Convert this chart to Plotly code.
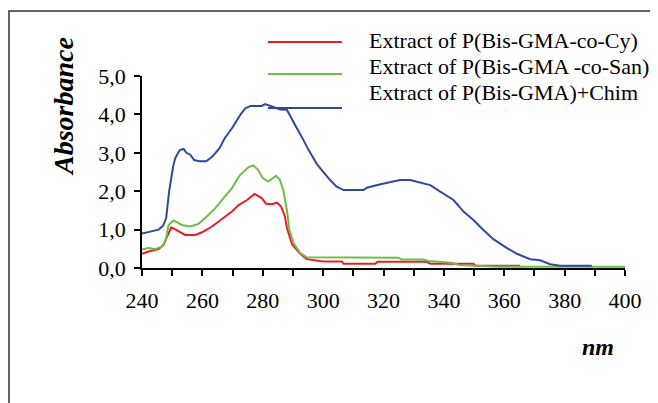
import plotly.graph_objects as go

# spectra (wavelength in nm, absorbance)
red_nm = [240, 242.2, 245.5, 247.2, 248.3, 249.7, 251.6, 254.3, 257.7, 259.9, 263.2, 266.5,
          269.8, 272, 274.8, 277.3, 279.7, 281.1, 283, 284.7, 286.1, 287.3, 288, 289.7,
          292.4, 294.6, 296.8, 300.1, 306.2, 306.8, 317.3, 318, 334.4, 335.5, 349.8, 350.5, 365.3]
red_abs = [0.37, 0.43, 0.49, 0.61, 0.82, 1.06, 0.98, 0.86, 0.86, 0.93, 1.08, 1.27,
           1.47, 1.64, 1.77, 1.93, 1.82, 1.67, 1.66, 1.70, 1.60, 1.35, 1.05, 0.62,
           0.37, 0.23, 0.20, 0.17, 0.17, 0.11, 0.11, 0.16, 0.16, 0.11, 0.11, 0.06, 0.06]

green_nm = [240, 242.2, 244.4, 246.6, 247.9, 248.8, 250.5, 253.2, 255.9, 258.7, 261.5, 264.3,
            267, 269.8, 271.4, 272.5, 275.3, 276.9, 278.5, 280, 281.8, 284.4, 285.7, 286.8,
            288, 288.8, 290.2, 292.4, 294.6, 325, 326, 333, 335, 343, 345, 357.5, 400]
green_abs = [0.48, 0.52, 0.49, 0.56, 0.73, 1.12, 1.24, 1.12, 1.08, 1.15, 1.34, 1.56,
             1.82, 2.08, 2.29, 2.42, 2.63, 2.67, 2.55, 2.34, 2.25, 2.40, 2.29, 2.03,
             1.51, 1.00, 0.65, 0.39, 0.28, 0.27, 0.22, 0.22, 0.18, 0.13, 0.08, 0.03, 0.03]

blue_nm = [240, 242.5, 245.5, 247, 248, 249, 250.3, 251, 252.5, 253.8, 254.7, 256, 257.3,
           259, 261.3, 263.3, 265.7, 267.4, 269.8, 272.5, 274.2, 276, 279.7, 280.8, 282.5,
           285.8, 288, 289.1, 291.3, 293.5, 295.2, 298, 302.3, 304.5, 306.8, 313.4, 314.5,
           319, 322.2, 325.5, 328.8, 332.2, 335.5, 338.8, 343.2, 346.5, 349.8, 353.1, 356.4,
           360.9, 364.2, 368.6, 371.9, 375.2, 378.5, 389]
blue_abs = [0.90, 0.95, 1.00, 1.10, 1.30, 2.00, 2.64, 2.86, 3.07, 3.10, 3.00, 2.95, 2.81,
            2.78, 2.78, 2.90, 3.12, 3.38, 3.64, 3.98, 4.16, 4.22, 4.22, 4.27, 4.22,
            4.13, 4.12, 3.95, 3.64, 3.33, 3.07, 2.70, 2.29, 2.12, 2.03, 2.03, 2.09,
            2.18, 2.23, 2.29, 2.29, 2.23, 2.16, 1.99, 1.77, 1.47, 1.25, 0.99, 0.75,
            0.52, 0.37, 0.23, 0.20, 0.10, 0.06, 0.06]

names = ["Extract of P(Bis-GMA-co-Cy)", "Extract of P(Bis-GMA -co-San)", "Extract of P(Bis-GMA)+Chim"]
colors = ["#ED1C24", "#6DBE45", "#2E4A9E"]

# page has an 8px body margin, so the figure is a bit smaller than the window
OFF = 8
W, H = 650, 395
L, R, T, B = 134, 33, 68, 135
SERIF = "Liberation Serif, Times New Roman, serif"


def px_x(p):
    # page pixel -> paper x
    return (p - OFF - L) / (W - L - R)


def px_y(p):
    # page pixel -> paper y
    return (H - B - (p - OFF)) / (H - T - B)


fig = go.Figure()
for xs, ys, name, c in zip([red_nm, green_nm, blue_nm], [red_abs, green_abs, blue_abs], names, colors):
    fig.add_trace(go.Scatter(x=xs, y=ys, mode="lines", name=name,
                             line=dict(color=c, width=2), showlegend=False))

axis_common = dict(showgrid=False, zeroline=False, showline=True, linecolor="black",
                   linewidth=1.5, tickcolor="black", tickwidth=1.5)

fig.update_layout(
    width=W, height=H,
    margin=dict(l=L, r=R, t=T, b=B),
    paper_bgcolor="white", plot_bgcolor="white",
    separators=",.",
    font=dict(family=SERIF, color="black"),
    xaxis=dict(range=[240, 400], tick0=240, dtick=20, ticks="outside", ticklen=6,
               tickfont=dict(size=22), ticklabelstandoff=6,
               minor=dict(dtick=10, ticks="outside", ticklen=6, tickcolor="black", tickwidth=1.5),
               **axis_common),
    xaxis2=dict(range=[240, 400], overlaying="x", anchor="y", tick0=240, dtick=5,
                ticks="inside", ticklen=5, showticklabels=False, **axis_common),
    yaxis=dict(range=[0, 5], dtick=1, tickformat=".1f", ticks="outside", ticklen=6,
               tickfont=dict(size=22), ticklabelstandoff=4, **axis_common),
    yaxis2=dict(range=[0, 5], overlaying="y", anchor="x", side="left", dtick=1,
                ticks="inside", ticklen=5, showticklabels=False, **axis_common),
)

# outer frame (left edge pulled in just enough to stay inside the figure)
fig.add_shape(type="rect", xref="paper", yref="paper", x0=px_x(9), x1=px_x(700),
              y0=px_y(450), y1=px_y(11), line=dict(color="#333333", width=1.5))

# hand-drawn legend
line_y = [42, 74, 108]
text_y = [40, 66, 92]
for name, c, ly, ty in zip(names, colors, line_y, text_y):
    fig.add_shape(type="line", xref="paper", yref="paper", x0=px_x(268), x1=px_x(342),
                  y0=px_y(ly), y1=px_y(ly), line=dict(color=c, width=2))
    fig.add_annotation(text=name, xref="paper", yref="paper", x=px_x(367), y=px_y(ty),
                       xanchor="left", yanchor="middle", showarrow=False,
                       font=dict(size=22, family=SERIF))

fig.add_annotation(text="Absorbance", xref="paper", yref="paper", x=px_x(63), y=px_y(107),
                   textangle=-90, showarrow=False, xanchor="center", yanchor="middle",
                   font=dict(size=28, family=SERIF, weight="bold", style="italic"))
fig.add_annotation(text="nm", xref="paper", yref="paper", x=px_x(598), y=px_y(347),
                   showarrow=False, xanchor="center", yanchor="middle",
                   font=dict(size=24, family=SERIF, weight="bold", style="italic"))

fig.write_html("out.html")
